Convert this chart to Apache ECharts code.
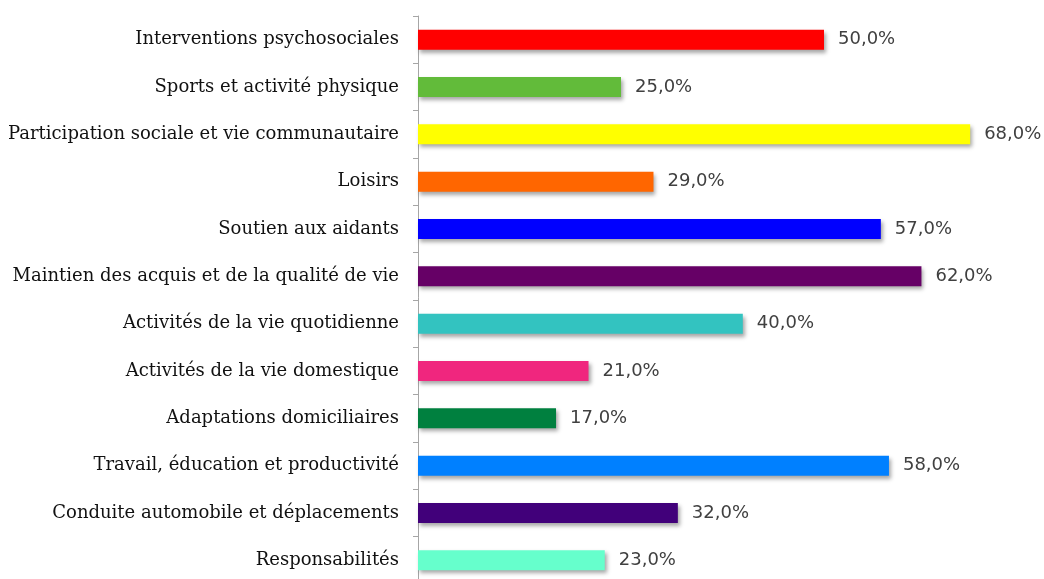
<!DOCTYPE html>
<html><head><meta charset="utf-8">
<script src="https://cdn.jsdelivr.net/npm/echarts@6/dist/echarts.min.js"></script>
<style>html,body{margin:0;padding:0;background:#fff}#c{width:1044px;height:579px}</style>
</head><body><div id="c"></div>
<script>
const categories = [
  "Interventions psychosociales",
  "Sports et activité physique",
  "Participation sociale et vie communautaire",
  "Loisirs",
  "Soutien aux aidants",
  "Maintien des acquis et de la qualité de vie",
  "Activités de la vie quotidienne",
  "Activités de la vie domestique",
  "Adaptations domiciliaires",
  "Travail, éducation et productivité",
  "Conduite automobile et déplacements",
  "Responsabilités"
];
const values = [0.50, 0.25, 0.68, 0.29, 0.57, 0.62, 0.40, 0.21, 0.17, 0.58, 0.32, 0.23];
const colors = ["#FF0000", "#62BB3A", "#FFFF00", "#FF6600", "#0000FF", "#660066",
                "#33C3C0", "#F0267E", "#00803F", "#0080FF", "#41007A", "#66FFCC"];

const chart = echarts.init(document.getElementById('c'), null, {renderer: 'canvas'});
chart.setOption({
  animation: false,
  backgroundColor: '#ffffff',
  grid: {left: 418, right: 17, top: 16, height: 568, containLabel: false, outerBoundsMode: 'none'},
  xAxis: {
    type: 'value', min: 0, max: 0.75,
    show: false
  },
  yAxis: {
    type: 'category', inverse: true, data: categories,
    axisLine: {show: true, lineStyle: {color: '#A6A6A6', width: 1}},
    axisTick: {show: true, length: 5, lineStyle: {color: '#A6A6A6'}},
    axisLabel: {
      margin: 19, color: '#111111', fontSize: 18,
      fontFamily: '"DejaVu Serif", serif'
    },
    splitLine: {show: false}
  },
  series: [{
    type: 'bar',
    data: values.map((v, i) => ({value: v, itemStyle: {color: colors[i]}})),
    barWidth: 20,
    itemStyle: {
      shadowColor: 'rgba(0,0,0,0.35)', shadowBlur: 4, shadowOffsetX: 2, shadowOffsetY: 3
    },
    label: {
      show: true, position: 'right', distance: 14,
      color: '#404040', fontSize: 18, fontFamily: '"DejaVu Sans", sans-serif',
      formatter: p => (p.value * 100).toFixed(1).replace('.', ',') + '%'
    }
  }]
});
</script></body></html>
